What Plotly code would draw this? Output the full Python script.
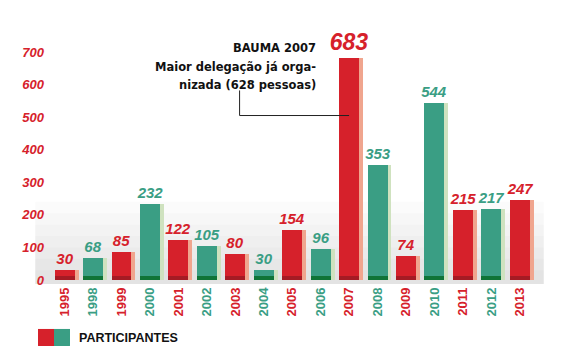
import plotly.graph_objects as go

years = ["1995", "1998", "1999", "2000", "2001", "2002", "2003", "2004", "2005",
         "2006", "2007", "2008", "2009", "2010", "2011", "2012", "2013"]
participants = [30, 68, 85, 232, 122, 105, 80, 30, 154, 96, 683, 353, 74, 544, 215, 217, 247]
y_ticks = [0, 100, 200, 300, 400, 500, 600, 700]

RED, GREEN = "#d6212b", "#3a9e84"
RED_SIDE, GREEN_SIDE = "#f0a58e", "#cfe2bf"
RED_BASE, GREEN_BASE = "#a51b24", "#0f7437"

n = len(years)
xs = list(range(n))
front = [RED if i % 2 == 0 else GREEN for i in xs]
side = [RED_SIDE if i % 2 == 0 else GREEN_SIDE for i in xs]
base = [RED_BASE if i % 2 == 0 else GREEN_BASE for i in xs]
label_sizes = [23 if v == max(participants) else 15 for v in participants]

fig = go.Figure()
fig.add_trace(go.Bar(x=xs, y=participants, width=0.15, offset=0.34,
                     marker=dict(color=side, line=dict(width=0)), hoverinfo="skip"))
fig.add_trace(go.Bar(x=xs, y=participants, width=0.7, offset=-0.35,
                     marker=dict(color=front, line=dict(width=0)),
                     text=[str(v) for v in participants], textposition="outside",
                     constraintext="none",
                     textfont=dict(family="Liberation Sans", size=label_sizes, color=front,
                                   weight="bold", style="italic"),
                     cliponaxis=False))
fig.add_trace(go.Bar(x=xs, y=[12] * n, width=0.7, offset=-0.35,
                     marker=dict(color=base, line=dict(width=0)), hoverinfo="skip"))

ticktext = [f'<span style="color:{front[i]}">{y}</span>' for i, y in enumerate(years)]

shapes = []
# subtle grey gradient behind the bars
for k in range(7):
    shapes.append(dict(type="rect", xref="paper", yref="y", x0=-0.02, x1=1.02,
                       y0=-12, y1=30 + k * 35, fillcolor="#000000", opacity=0.014,
                       line=dict(width=0), layer="below"))
# connector line of the annotation
shapes.append(dict(type="path", xref="x", yref="y",
                   path="M 6.15 582 L 6.15 505 L 10 505",
                   line=dict(color="#222222", width=1)))
# legend swatches
shapes.append(dict(type="rect", xref="paper", yref="paper", x0=-0.0143, x1=0.0184,
                   y0=-0.244, y1=-0.177, fillcolor=RED, line=dict(width=0)))
shapes.append(dict(type="rect", xref="paper", yref="paper", x0=0.0184, x1=0.0511,
                   y0=-0.244, y1=-0.177, fillcolor=GREEN, line=dict(width=0)))

note_font = dict(family="DejaVu Sans", size=11.5, color="#111111", weight="bold")
annotations = [
    dict(text="BAUMA 2007", x=0.558, y=0.929),
    dict(text="Maior delegação já orga-", x=0.558, y=0.854),
    dict(text="nizada (628 pessoas)", x=0.558, y=0.783),
]
for a in annotations:
    a.update(xref="paper", yref="paper", xanchor="right", yanchor="middle",
             showarrow=False, font=note_font)
annotations.append(dict(text="PARTICIPANTES", xref="paper", yref="paper", x=0.0654, y=-0.213,
                        xanchor="left", yanchor="middle", showarrow=False,
                        font=dict(family="Liberation Sans", size=12.5, color="#111111",
                                  weight="bold")))

fig.update_layout(
    width=562, height=355,
    margin=dict(l=37, r=36, t=22, b=79),
    paper_bgcolor="white", plot_bgcolor="rgba(0,0,0,0)",
    barmode="overlay", bargap=0, showlegend=False,
    shapes=shapes, annotations=annotations,
    xaxis=dict(range=[-0.69, 16.5], tickmode="array", tickvals=xs, ticktext=ticktext,
               tickangle=-90, showgrid=False, zeroline=False, showline=False,
               ticks="", tickfont=dict(family="Liberation Sans", size=13, weight="bold")),
    yaxis=dict(range=[-12.3, 767.6], tickmode="array", tickvals=y_ticks,
               showgrid=False, zeroline=False, showline=False, ticks="",
               tickfont=dict(family="Liberation Sans", size=13, color=RED,
                             weight="bold", style="italic")),
)

fig.write_html("out.html")
